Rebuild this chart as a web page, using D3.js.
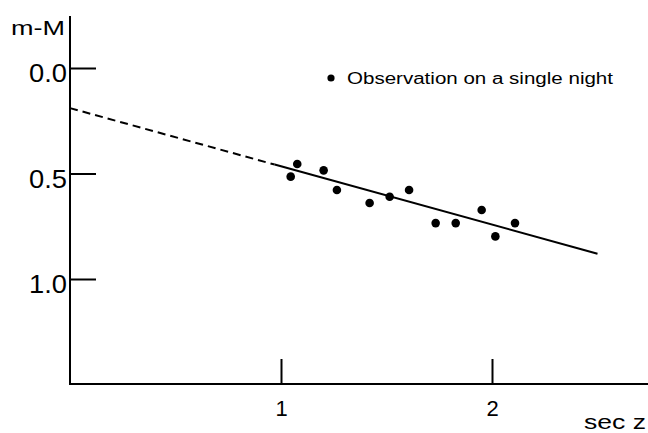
<!DOCTYPE html>
<html>
<head>
<meta charset="utf-8">
<script src="https://cdn.jsdelivr.net/npm/d3@7"></script>
<style>
  body { margin: 0; background: #fff; }
  text { font-family: "Liberation Sans", Arial, Helvetica, sans-serif; fill: #000; }
  .domain, .tick line { stroke: #000; stroke-width: 2px; }
</style>
</head>
<body>
<div id="chart"></div>
<script>
var svgWidth = 648;
var svgHeight = 433;

// observations on a single night
var secZ = [1.046, 1.077, 1.202, 1.265, 1.420, 1.515, 1.607, 1.733, 1.828, 1.951, 2.016, 2.109];
var magDiff = [0.515, 0.455, 0.485, 0.578, 0.640, 0.610, 0.578, 0.735, 0.735, 0.673, 0.798, 0.735];

// fitted line: m-M = a + k sec z
var fitIntercept = 0.19;
var fitSlope = 0.276;
var dashedRange = [0, 0.97];
var solidRange = [0.97, 2.5];

var xTicks = [1, 2];
var yTicks = [0.0, 0.5, 1.0];

var svg = d3.select("#chart")
  .append("svg")
  .attr("width", svgWidth)
  .attr("height", svgHeight);

var xScale = d3.scaleLinear()
  .domain([0, 1])
  .range([70, 281]);

var yScale = d3.scaleLinear()
  .domain([0, 1])
  .range([68, 279]);

var axisY0 = 384;

// x axis line + ticks pointing up
var bottomAxis = d3.axisBottom(xScale)
  .tickValues(xTicks)
  .tickSize(-25)
  .tickSizeOuter(0)
  .tickPadding(16)
  .tickFormat(d3.format("d"));

var xAxis = svg.append("g")
  .attr("transform", `translate(0, ${axisY0})`)
  .call(bottomAxis);
xAxis.select(".domain").attr("d", `M70,0H${svgWidth}`);
xAxis.selectAll("text")
  .attr("font-family", null)
  .style("font-size", "22px");

// y axis line + ticks pointing right
var leftAxis = d3.axisLeft(yScale)
  .tickValues(yTicks)
  .tickSize(-26)
  .tickSizeOuter(0)
  .tickPadding(3)
  .tickFormat(d3.format(".1f"));

var yAxis = svg.append("g")
  .attr("transform", "translate(70, 0)")
  .call(leftAxis);
yAxis.select(".domain").attr("d", `M0,16V${axisY0 + 1}`);
yAxis.selectAll("text")
  .attr("font-family", null)
  .attr("dy", "0.54em")
  .attr("textLength", 38)
  .attr("lengthAdjust", "spacingAndGlyphs")
  .style("font-size", "25px");

// axis titles (the source figure is stretched sideways, hence textLength)
svg.append("text")
  .attr("x", 11)
  .attr("y", 35)
  .attr("textLength", 54)
  .attr("lengthAdjust", "spacingAndGlyphs")
  .style("font-size", "20px")
  .text("m-M");

svg.append("text")
  .attr("x", 584)
  .attr("y", 429)
  .attr("textLength", 62)
  .attr("lengthAdjust", "spacingAndGlyphs")
  .style("font-size", "21px")
  .text("sec z");

// fitted line
var fitLine = d3.line()
  .x(d => xScale(d))
  .y(d => yScale(fitIntercept + fitSlope * d));

svg.append("path")
  .datum(dashedRange)
  .attr("d", fitLine)
  .attr("fill", "none")
  .attr("stroke", "#000")
  .attr("stroke-width", 2)
  .attr("stroke-dasharray", "8,5");

svg.append("path")
  .datum(solidRange)
  .attr("d", fitLine)
  .attr("fill", "none")
  .attr("stroke", "#000")
  .attr("stroke-width", 2);

// observation points
svg.append("g")
  .selectAll("circle")
  .data(secZ)
  .enter()
  .append("circle")
  .attr("cx", d => xScale(d))
  .attr("cy", (d, i) => yScale(magDiff[i]))
  .attr("r", 4.3)
  .attr("fill", "#000");

// legend
svg.append("circle")
  .attr("cx", 331)
  .attr("cy", 78)
  .attr("r", 3.6)
  .attr("fill", "#000");

svg.append("text")
  .attr("x", 347)
  .attr("y", 84)
  .attr("textLength", 266)
  .attr("lengthAdjust", "spacingAndGlyphs")
  .style("font-size", "16px")
  .text("Observation on a single night");
</script>
</body>
</html>
